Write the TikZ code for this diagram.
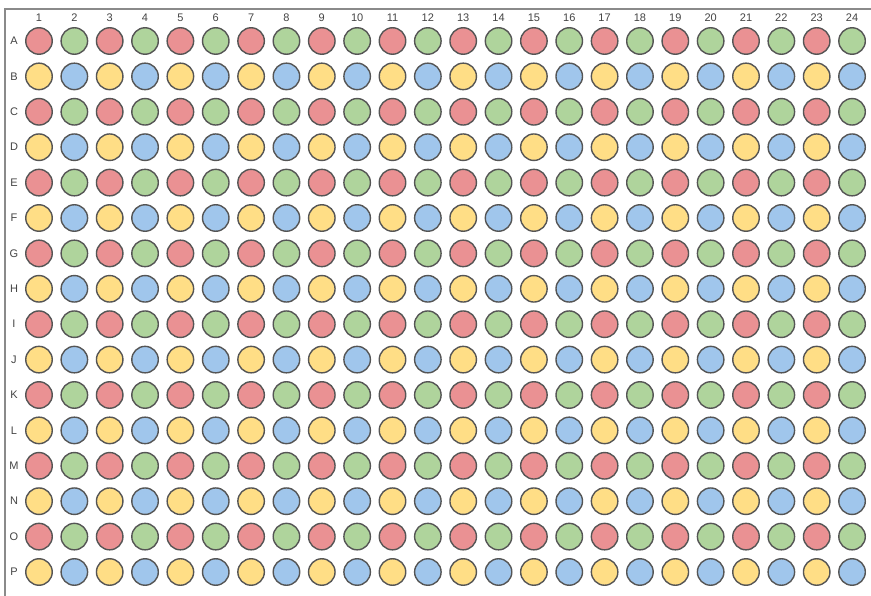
\documentclass[tikz,border=0pt]{standalone}
\usepackage{fontspec}
\setmainfont{Liberation Sans}
\definecolor{wred}{HTML}{EA9193}
\definecolor{wgreen}{HTML}{AFD49C}
\definecolor{wyellow}{HTML}{FFDE86}
\definecolor{wblue}{HTML}{A0C6EC}
\definecolor{wedge}{HTML}{555555}
\definecolor{framec}{HTML}{8A8A8A}
\definecolor{labc}{HTML}{444444}
\tikzset{
  well/.style={circle, draw=wedge, line width=1.4pt, minimum size=26.5pt, inner sep=0pt},
  lab/.style={text=labc, font=\fontsize{11}{11}\selectfont, inner sep=0pt},
}
\begin{document}
\begin{tikzpicture}[x=1pt,y=-1pt]
\useasboundingbox (0,0) rectangle (871,596);
\fill[white] (0,0) rectangle (871,596);
\coordinate (fb) at (5,596);
\coordinate (fc) at (5,9);
\coordinate (fr) at (871,9);
\draw[framec, line width=2pt] (fb) -- (fc) -- (fr);
\foreach \c in {1,...,24}{
  \node[lab] (col\c) at ({39+(\c-1)*35.35},18) {\c};
}
\foreach \r [count=\i] in {A,...,P}{
  \node[lab] (row\r) at (14,{41+(\i-1)*35.4}) {\r};
}
\foreach \i in {1,...,16}{
  \foreach \c in {1,...,24}{
    \pgfmathtruncatemacro\k{mod(\i-1,2)*2+mod(\c-1,2)}
    \ifcase\k \def\wc{wred}\or \def\wc{wgreen}\or \def\wc{wyellow}\or \def\wc{wblue}\fi
    \node[well, fill=\wc] (w-\i-\c) at ({39+(\c-1)*35.35},{41+(\i-1)*35.4}) {};
  }
}
\end{tikzpicture}
\end{document}
